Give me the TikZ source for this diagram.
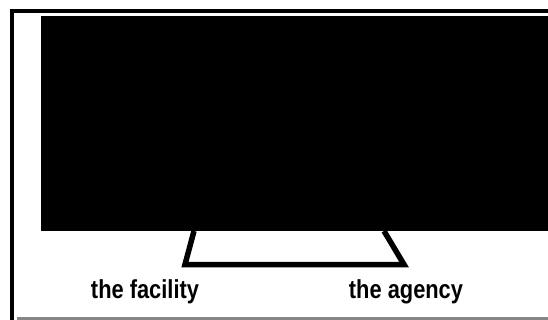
\documentclass[tikz,border=0pt]{standalone}
\usepackage{fontspec}
\newfontfamily\labelfont[FakeStretch=0.84]{Liberation Sans}
\usetikzlibrary{positioning}

\begin{document}
\begin{tikzpicture}[x=1pt,y=-1pt,
    frame/.style={line width=4pt},
    screen/.style={fill=black,inner sep=0pt,outer sep=0pt,minimum width=507.3pt,minimum height=215pt},
    stand/.style={line width=5.5pt,line join=miter},
    caption/.style={font=\labelfont\bfseries\fontsize{26}{30}\selectfont,inner sep=0pt,anchor=base}
  ]
    \useasboundingbox (0,0) rectangle (548,320);
    \draw[frame] (548,11) -- (12,11) -- (12,320);
    \draw[gray!95,line width=3.3pt] (17,318.4) -- (548,318.4);

    \node[screen,anchor=north west] (panel) at (40.7,16) {};
    \coordinate (legL) at (194,231);
    \coordinate (legR) at (384,231);
    \coordinate (footL) at (185,264.5);
    \coordinate (footR) at (404,264.5);
    \draw[stand] (legL) -- (footL) -- (footR) -- (legR);

    \node[caption] (facility) at (145,298) {the facility};
    \node[caption] (agency) at (406,298) {the agency};
  \end{tikzpicture}
\end{document}
